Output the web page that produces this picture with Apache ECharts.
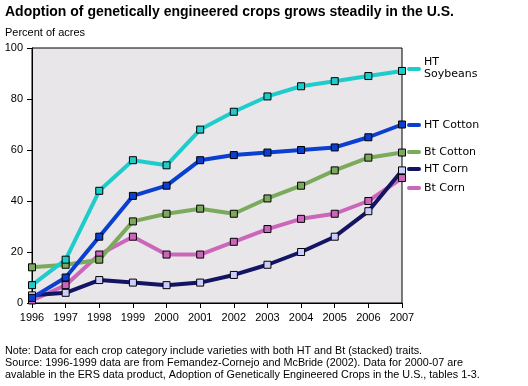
<!DOCTYPE html>
<html><head><meta charset="utf-8">
<script src="https://cdn.jsdelivr.net/npm/echarts@6/dist/echarts.min.js"></script>
<style>html,body{margin:0;padding:0;background:#fff}#c{width:528px;height:386px}</style>
</head><body><div id="c"></div>
<script>
const years = ['1996','1997','1998','1999','2000','2001','2002','2003','2004','2005','2006','2007'];
const htSoybeans = [7, 17, 44, 56, 54, 68, 75, 81, 85, 87, 89, 91];
const htCotton = [2, 10, 26, 42, 46, 56, 58, 59, 60, 61, 65, 70];
const btCotton = [14, 15, 17, 32, 35, 37, 35, 41, 46, 52, 57, 59];
const htCorn = [3, 4, 9, 8, 7, 8, 11, 15, 20, 26, 36, 52];
const btCorn = [1, 7, 19, 26, 19, 19, 24, 29, 33, 35, 40, 49];
const yTicks = [0, 20, 40, 60, 80, 100];

const seriesDefs = [
  {name:'Bt Corn', data:btCorn, color:'#cc66bb', fill:'#cc66bb', ly:188},
  {name:'Bt Cotton', data:btCotton, color:'#7caa5c', fill:'#7caa5c', ly:152},
  {name:'HT Corn', data:htCorn, color:'#141464', fill:'#ccccff', ly:169},
  {name:'HT Cotton', data:htCotton, color:'#0b3fd0', fill:'#0b3fd0', ly:125},
  {name:'HT Soybeans', data:htSoybeans, color:'#1fcccc', fill:'#1fcccc', ly:69}
];

const chart = echarts.init(document.getElementById('c'), null, {renderer:'canvas'});
const font = 'Liberation Sans, Arial, sans-serif';
const graphics = [
  {type:'text', left:5, top:5, style:{text:'Adoption of genetically engineered crops grows steadily in the U.S.', font:'bold 14px '+font, fill:'#000'}},
  {type:'text', left:5, top:27, style:{text:'Percent of acres', font:'11px '+font, fill:'#000'}},
  {type:'text', left:5, top:345, style:{text:'Note: Data for each crop category include varieties with both HT and Bt (stacked) traits.\nSource: 1996-1999 data are from Femandez-Cornejo and McBride (2002). Data for 2000-07 are\navalable in the ERS data product, Adoption of Genetically Engineered Crops in the U.S., tables 1-3.', font:'10.8px '+font, fill:'#000', lineHeight:12}}
];
seriesDefs.forEach(s => {
  graphics.push({type:'line', shape:{x1:409, y1:s.ly, x2:419, y2:s.ly}, style:{stroke:s.color, lineWidth:4, lineCap:'round'}});
  if (s.name === 'HT Soybeans') {
    graphics.push({type:'text', x:424, y:s.ly-1, style:{text:'HT\nSoybeans', font:'11px DejaVu Sans', fill:'#000', verticalAlign:'middle', lineHeight:12}});
  } else {
    graphics.push({type:'text', x:424, y:s.ly, style:{text:s.name, font:'11px DejaVu Sans', fill:'#000', verticalAlign:'middle'}});
  }
});

chart.setOption({
  animation:false,
  backgroundColor:'#fff',
  grid:{left:32, right:126, top:48, bottom:83, show:true, backgroundColor:'#e8e6e8', borderColor:'#000', borderWidth:1},
  xAxis:{type:'category', data:years, boundaryGap:false,
    axisLine:{lineStyle:{color:'#000', width:1}},
    axisTick:{alignWithLabel:true, length:5, lineStyle:{color:'#000'}},
    axisLabel:{color:'#000', fontSize:11, fontFamily:font, margin:9},
    splitLine:{show:false}},
  yAxis:{type:'value', min:yTicks[0], max:yTicks[yTicks.length-1], interval:20,
    axisLine:{show:true, lineStyle:{color:'#000', width:1}},
    axisTick:{show:true, length:5, lineStyle:{color:'#000'}},
    minorTick:{show:false},
    axisLabel:{color:'#000', fontSize:11, fontFamily:font, margin:9},
    splitLine:{show:false}},
  graphic:graphics,
  series: seriesDefs.map(s => ({
    type:'line', name:s.name, data:s.data,
    symbol:'rect', symbolSize:7, showAllSymbol:true,
    lineStyle:{color:s.color, width:4},
    itemStyle:{color:s.fill, borderColor:'#000', borderWidth:1},
    emphasis:{disabled:true}
  }))
});
</script></body></html>
